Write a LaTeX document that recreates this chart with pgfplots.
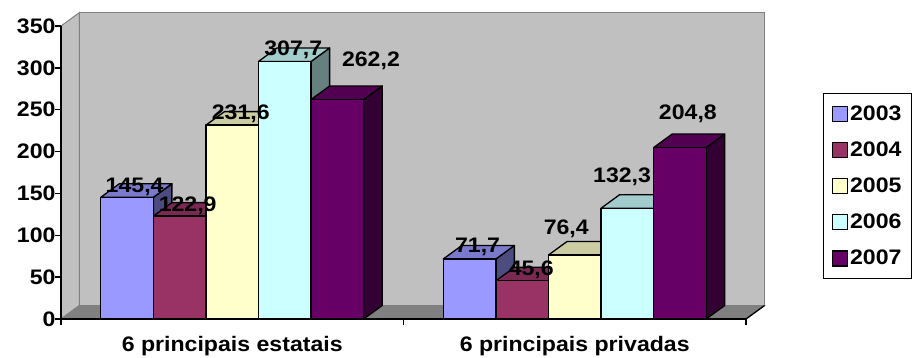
\documentclass[border=0pt]{standalone}
\usepackage{pgfplots}
\usepackage{pgfplotstable}
\usepackage{fontspec}
\setmainfont{Liberation Sans}
\pgfplotsset{compat=1.18}

\definecolor{c2003}{HTML}{9999FF}
\definecolor{c2004}{HTML}{993366}
\definecolor{c2005}{HTML}{FFFFCC}
\definecolor{c2006}{HTML}{CCFFFF}
\definecolor{c2007}{HTML}{660066}
\definecolor{wall}{HTML}{C0C0C0}
\definecolor{floorc}{HTML}{808080}

\newcommand\fs{\fontsize{21pt}{25pt}\selectfont\bfseries}

% geometry of the 3-D boxes (axis units)
\newcommand\depthx{0.054}
\newcommand\depthy{16.1}
\newcommand\barw{0.1535}
\newcommand\grpoff{0.38375}

% one table per year: group, value, label shift (pt)
\pgfplotstableread{
grp val   tx    ty
0   145.4 6.85  12.5
1   71.7  7.25  13.5
}\tA
\pgfplotstableread{
grp val   tx    ty
0   122.9 7.25  12.5
1   45.6  8.25  12.5
}\tB
\pgfplotstableread{
grp val   tx    ty
0   231.6 7.75  13.5
1   76.4  -7.75 28
}\tC
\pgfplotstableread{
grp val   tx    ty
0   307.7 7.65  13.5
1   132.3 -4.75 33.5
}\tD
\pgfplotstableread{
grp val   tx    ty
0   262.2 30.5  40.5
1   204.8 7.25  35.5
}\tE

% a box: side face, top face, front face
\newcommand\drawbox[4]{% row, position in group, table, colour
  \pgfplotstablegetelem{#1}{val}\of#3\let\bval\pgfplotsretval
  \pgfplotstablegetelem{#1}{grp}\of#3\let\bgrp\pgfplotsretval
  \pgfmathsetmacro\xl{\bgrp-\grpoff+#2*\barw}
  \pgfmathsetmacro\xr{\xl+\barw}
  \pgfmathsetmacro\xlb{\xl+\depthx}
  \pgfmathsetmacro\xrb{\xr+\depthx}
  \pgfmathsetmacro\vb{\bval+\depthy}
  \addplot[face, fill=#4!50!black] coordinates {(\xr,0) (\xrb,\depthy) (\xrb,\vb) (\xr,\bval)} -- cycle;
  \addplot[face, fill=#4!80!black] coordinates {(\xl,\bval) (\xr,\bval) (\xrb,\vb) (\xlb,\vb)} -- cycle;
  \addplot[face, fill=#4] coordinates {(\xl,0) (\xr,0) (\xr,\bval) (\xl,\bval)} -- cycle;
}

% value labels of one year
\newcommand\drawlabels[2]{% table, position in group
  \addplot[forget plot, draw=none, mark=none, point meta=y,
    visualization depends on={\thisrow{tx}\as\lblx},
    visualization depends on={\thisrow{ty}\as\lbly},
    nodes near coords={\pgfmathprintnumber[fixed,fixed zerofill,precision=1,use comma]{\pgfplotspointmeta}},
    every node near coord/.append style={anchor=center, text=black, font=\fs,
      xscale=1.1, text height=15pt, text depth=0pt, inner sep=0pt,
      xshift=\lblx pt, yshift=\lbly pt}]
    table[x expr=\thisrow{grp}-\grpoff+(#2+0.5)*\barw, y=val] #1;
}

\begin{document}
\begin{tikzpicture}
\path[use as bounding box] (0,0) rectangle (912pt,358pt);
\begin{axis}[
  at={(61pt,39pt)}, anchor=south west,
  scale only axis, width=685pt, height=293pt,
  xmin=-0.5, xmax=1.5, ymin=0, ymax=350,
  clip=false, axis on top,
  axis lines=left, axis line style={-, line width=1.3pt, black},
  tick align=outside, major tick length=6pt,
  tick style={line width=1.3pt, black},
  xtick={-0.5,0.5,1.5}, xticklabels={},
  extra x ticks={0,1},
  extra x tick labels={6 principais estatais,6 principais privadas},
  extra x tick style={major tick length=0pt, xticklabel style={yshift=-14pt}},
  ytick={0,50,...,350},
  yticklabel style={xshift=4pt},
  /pgf/number format/assume math mode=true,
  tick label style={font=\fs, xscale=1.1},
  face/.style={forget plot, draw=black, line width=1.3pt, line join=round},
  legend style={at={(1.1124,0.7713)}, anchor=north west, draw=black,
    line width=1.3pt, font=\fs, row sep=16pt, inner xsep=8pt, inner ysep=10pt,
    nodes={xscale=1.1}},
  legend cell align=left,
  legend image code/.code={\draw[#1, line width=1.3pt] (0pt,-7.5pt) rectangle (15pt,7.5pt);},
]
% side wall, back wall and floor
\addplot[forget plot, fill=wall, draw=floorc, line width=1pt]
  coordinates {(-0.5,0) (-0.446,16.1) (-0.446,366.1) (-0.5,350)} -- cycle;
\addplot[forget plot, fill=wall, draw=floorc, line width=1.3pt]
  coordinates {(-0.446,16.1) (1.554,16.1) (1.554,366.1) (-0.446,366.1)} -- cycle;
\addplot[forget plot, fill=floorc, draw=floorc, line width=1pt]
  coordinates {(-0.5,0) (1.5,0) (1.554,16.1) (-0.446,16.1)} -- cycle;
\addplot[forget plot, draw=black, line width=1.3pt]
  coordinates {(1.5,0) (1.554,16.1)};

\pgfplotsinvokeforeach{0,1}{%
  \drawbox{#1}{0}{\tA}{c2003}
  \drawbox{#1}{1}{\tB}{c2004}
  \drawbox{#1}{2}{\tC}{c2005}
  \drawbox{#1}{3}{\tD}{c2006}
  \drawbox{#1}{4}{\tE}{c2007}
}

\drawlabels{\tA}{0}
\drawlabels{\tB}{1}
\drawlabels{\tC}{2}
\drawlabels{\tD}{3}
\drawlabels{\tE}{4}

\addlegendimage{fill=c2003, draw=black}\addlegendentry{2003}
\addlegendimage{fill=c2004, draw=black}\addlegendentry{2004}
\addlegendimage{fill=c2005, draw=black}\addlegendentry{2005}
\addlegendimage{fill=c2006, draw=black}\addlegendentry{2006}
\addlegendimage{fill=c2007, draw=black}\addlegendentry{2007}
\end{axis}
\end{tikzpicture}
\end{document}
